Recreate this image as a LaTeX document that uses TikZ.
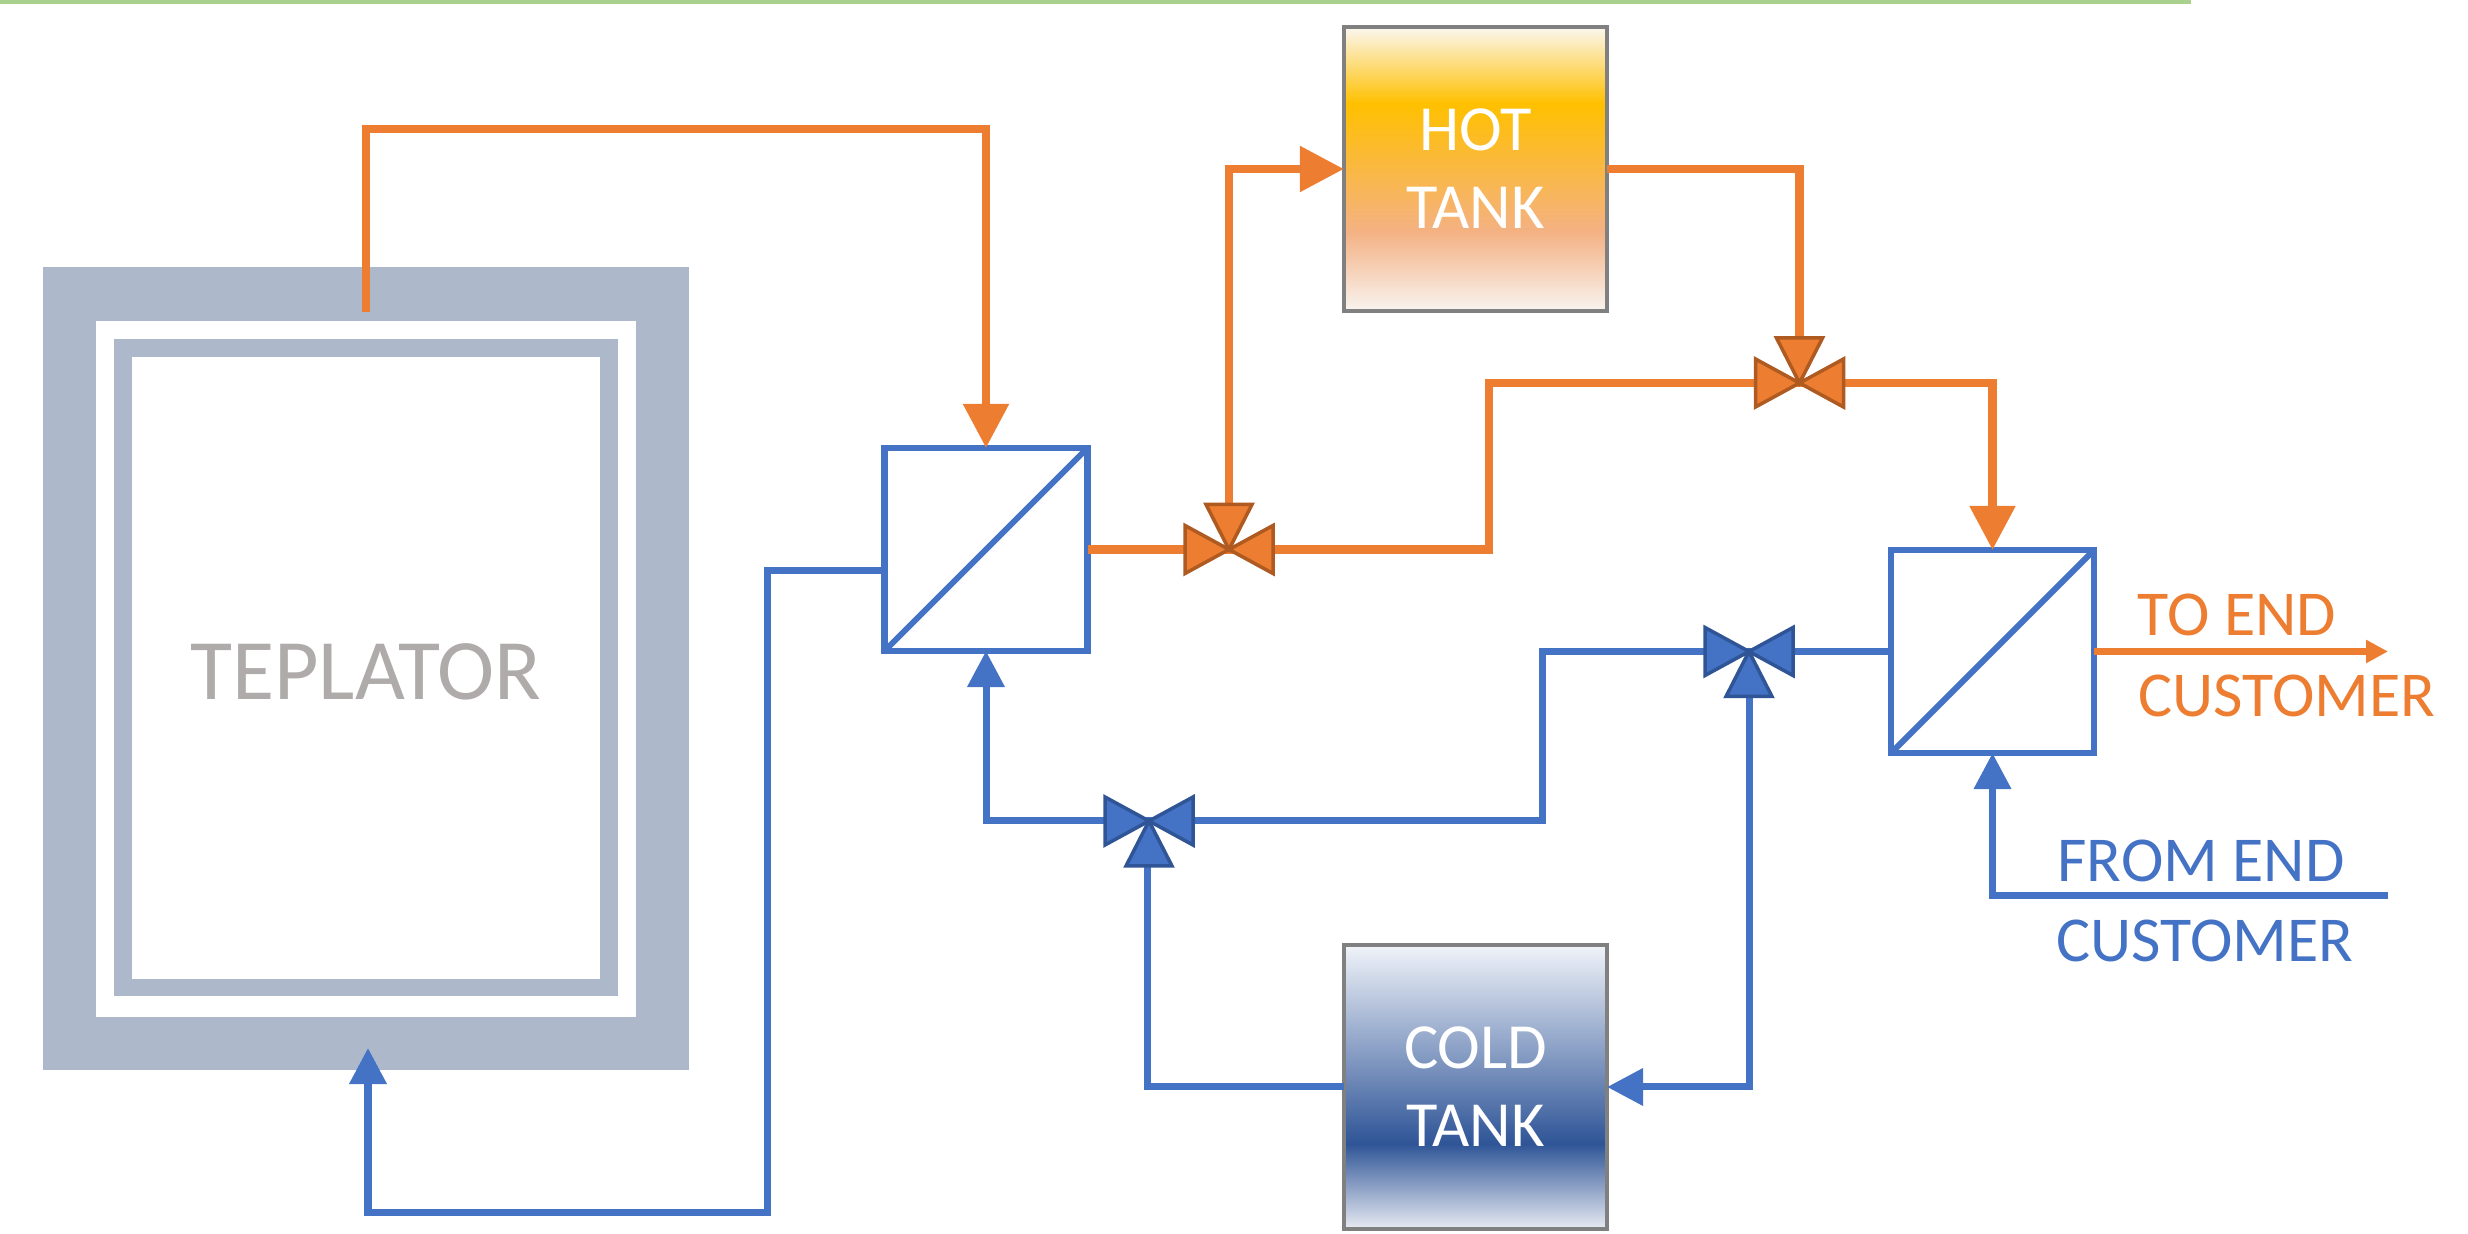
\documentclass[tikz,border=0pt]{standalone}
\usepackage{fontspec}
\setmainfont{Carlito}
\usetikzlibrary{arrows.meta}
\definecolor{hotcol}{HTML}{ED7D31}
\definecolor{hotdark}{HTML}{AE5A21}
\definecolor{coldcol}{HTML}{4472C4}
\definecolor{colddark}{HTML}{2F5597}
\definecolor{wallcol}{HTML}{ADB9CA}
\definecolor{barcol}{HTML}{A9D18E}
\definecolor{textgray}{HTML}{AFABAB}
\definecolor{tankgold}{HTML}{FFC000}
\definecolor{tankpeach}{HTML}{F4B183}
\definecolor{hottop}{HTML}{FBF7F0}
\definecolor{hotbottom}{HTML}{F8F4F0}
\definecolor{coldtop}{HTML}{F0F3F9}
\definecolor{coldbottom}{HTML}{E8EBF2}
\pgfdeclareverticalshading{hotshade}{100bp}{
  color(0bp)=(hotbottom); color(25bp)=(hotbottom); color(39bp)=(tankpeach);
  color(61.5bp)=(tankgold); color(75bp)=(hottop); color(100bp)=(hottop)}
\pgfdeclareverticalshading{coldshade}{100bp}{
  color(0bp)=(coldbottom); color(25bp)=(coldbottom); color(40bp)=(colddark);
  color(75bp)=(coldtop); color(100bp)=(coldtop)}
\tikzset{
  hotline/.style={draw=hotcol, line width=0.085cm},
  coldline/.style={draw=coldcol, line width=0.07cm},
  hottip/.style={-{Triangle[length=0.44cm,width=0.44cm]}},
  coldtip/.style={-{Triangle[length=0.36cm,width=0.36cm]}},
  exchanger/.style={draw=coldcol, line width=0.065cm, minimum width=2.03cm, minimum height=2.03cm, inner sep=0pt, outer sep=0pt},
  tankbox/.style={draw=gray, line width=0.045cm, minimum width=2.63cm, minimum height=2.84cm, inner sep=0pt, outer sep=0pt,
    text=white, align=center, font=\fontsize{18.3}{22.2}\selectfont},
  wallbox/.style={fill=#1, inner sep=0pt, outer sep=0pt},
  flowtext/.style={font=\fontsize{18.2}{22}\selectfont},
  hotvalve/.style={fill=hotcol, draw=hotdark, line width=0.035cm},
  coldvalve/.style={fill=coldcol, draw=colddark, line width=0.035cm, rotate=180},
  valve/.pic={
    \path[pic actions] (0,0) -- (-44,-24) -- (-44,24) -- cycle;
    \path[pic actions] (0,0) -- (44,-24) -- (44,24) -- cycle;
    \path[pic actions] (0,0) -- (-23,-45) -- (23,-45) -- cycle;
  }
}
\begin{document}
\begin{tikzpicture}[x=0.01cm, y=-0.01cm]
    \useasboundingbox (0,0) rectangle (2468,1234);
    \fill[barcol] (0,0) rectangle (2191,4.5);

    % reactor walls
    \node[wallbox=wallcol, minimum width=6.46cm, minimum height=8.03cm] (wallouter) at (366,668.5) {};
    \node[wallbox=white, minimum width=5.40cm, minimum height=6.96cm] (gapouter) at (366,669) {};
    \node[wallbox=wallcol, minimum width=5.04cm, minimum height=6.57cm] (wallinner) at (366,667.5) {};
    \node[wallbox=white, minimum width=4.67cm, minimum height=6.22cm] (gapinner) at (366,668) {};
    \node[text=textgray, font=\fontsize{24.5}{30}\selectfont] (teplator) at (366,672) {TEPLATOR};

    \node[exchanger] (hxa) at (986,549.5) {};
    \node[exchanger] (hxb) at (1992.5,651.5) {};
    \draw[coldline, line width=0.06cm] (hxa.south west) -- (hxa.north east);
    \draw[coldline, line width=0.06cm] (hxb.south west) -- (hxb.north east);

    \node[tankbox, shading=hotshade] (hot) at (1475.5,169) {HOT\\TANK};
    \node[tankbox, shading=coldshade] (cold) at (1475.5,1087) {COLD\\TANK};

    \coordinate (va) at (1229,549.5);
    \coordinate (vb) at (1799.5,383);
    \coordinate (vc) at (1149,821);
    \coordinate (vd) at (1749,651.5);
    \coordinate (hotstart) at (366,312);
    \coordinate (hottop) at (366,129);
    \coordinate (hotbend) at (1489,383);
    \coordinate (toend) at (2388,651.5);
    \coordinate (hxaout) at (883,571);
    \coordinate (coldlow) at (767,1213);
    \coordinate (coldend) at (368,1048);
    \coordinate (coldbend) at (1542,651.5);
    \coordinate (coldfeed) at (1147,850);
    \coordinate (fromend) at (2388,896);

    % hot side
    \draw[hotline, hottip] (hotstart) -- (hottop) -| (hxa.north);
    \draw[hotline] (hxa.east) -- (va);
    \draw[hotline, hottip] (va) |- (hot.west);
    \draw[hotline] (hot.east) -| (vb);
    \draw[hotline] (va) -| (hotbend) -- (vb);
    \draw[hotline, hottip] (vb) -| (hxb.north);
    \draw[hotline, -{Triangle[length=0.22cm,width=0.22cm]}, line width=0.07cm] (hxb.east) -- (toend);

    % cold side
    \draw[coldline, coldtip] (hxaout) -| (coldlow) -| (coldend);
    \draw[coldline, coldtip] (vc) -| (hxa.south);
    \draw[coldline] (cold.west) -| (coldfeed);
    \draw[coldline] (vc) -| (coldbend) -- (vd);
    \draw[coldline] (hxb.west) -- (vd);
    \draw[coldline, coldtip] (vd) |- (cold.east);
    \draw[coldline, coldtip] (fromend) -| (hxb.south);

    \pic[hotvalve] at (va) {valve};
    \pic[hotvalve] at (vb) {valve};
    \pic[coldvalve] at (vc) {valve};
    \pic[coldvalve] at (vd) {valve};

    \node[flowtext, text=hotcol] (toa) at (2237,615) {TO END};
    \node[flowtext, text=hotcol] (tob) at (2287,696) {CUSTOMER};
    \node[flowtext, text=coldcol] (froma) at (2201,861) {FROM END};
    \node[flowtext, text=coldcol] (fromb) at (2205,941) {CUSTOMER};
\end{tikzpicture}
\end{document}
